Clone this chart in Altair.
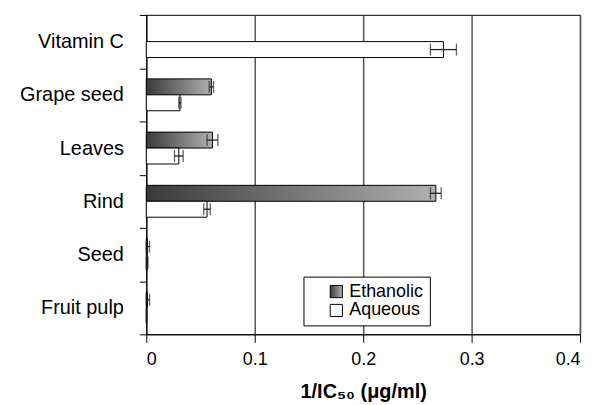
import altair as alt
import pandas as pd

categories = ["Vitamin C", "Grape seed", "Leaves", "Rind", "Seed", "Fruit pulp"]
series_names = ["Ethanolic", "Aqueous"]
ethanolic = [None, 0.060, 0.061, 0.267, 0.001, 0.001]
ethanolic_err = [None, 0.002, 0.005, 0.005, 0.002, 0.002]
aqueous = [0.274, 0.031, 0.030, 0.056, 0.0008, 0.0003]
aqueous_err = [0.012, 0.001, 0.004, 0.003, 0.0008, 0.0003]
x_ticks = [0, 0.1, 0.2, 0.3, 0.4]

rows = []
for name, vals, errs in [("Ethanolic", ethanolic, ethanolic_err), ("Aqueous", aqueous, aqueous_err)]:
    for c, v, e in zip(categories, vals, errs):
        if v is None:
            continue
        rows.append(dict(cat=c, series=name, value=v, lo=max(v - e, 0), hi=v + e))
df = pd.DataFrame(rows)

FONT = "Liberation Sans"
grad_expr = ("{gradient: 'linear', x1: 0, y1: 0, x2: 1, y2: 0, "
             "stops: [{offset: 0, color: '#3a3a3a'}, {offset: 1, color: '#b0b0b0'}]}")

y_enc = alt.Y("cat:N", sort=categories,
              scale=alt.Scale(paddingInner=0, paddingOuter=0),
              axis=alt.Axis(title=None, tickBand="extent", tickSize=7, tickColor="black",
                            domainColor="black", labelFontSize=20, labelFont=FONT,
                            labelColor="black", labelPadding=16, grid=False))
yoff_enc = alt.YOffset("series:N", sort=series_names,
                       scale=alt.Scale(domain=series_names, paddingInner=0, paddingOuter=0.67))
x_scale = alt.Scale(domain=[0, 0.4], nice=False)

base = alt.Chart(df)

bars = base.mark_bar(stroke="black", strokeWidth=1).encode(
    x=alt.X("value:Q", scale=x_scale,
            axis=alt.Axis(values=x_ticks, format=".1~f", grid=True, gridColor="#555",
                          gridWidth=1.5, tickSize=8, tickColor="black", domainColor="black",
                          labelFontSize=18, labelFont=FONT, labelColor="black", labelPadding=8,
                          title="1/IC₅₀ (μg/ml)", titleFont=FONT, titleFontSize=20,
                          titleFontWeight="bold", titleColor="black", titlePadding=13)),
    y=y_enc,
    yOffset=yoff_enc,
    color=alt.Color("series:N",
                    scale=alt.Scale(domain=series_names, range=[alt.ExprRef(grad_expr), "white"]),
                    legend=alt.Legend(orient="none", legendX=158, legendY=263, title=None,
                                      symbolType="square", symbolSize=150,
                                      symbolStrokeColor="black", symbolStrokeWidth=1,
                                      labelFontSize=18, labelFont=FONT, labelColor="black",
                                      fillColor="white", strokeColor="black", padding=6,
                                      rowPadding=1, symbolOffset=18)),
)

rules = base.mark_rule(color="#222", strokeWidth=1.3).encode(
    x=alt.X("lo:Q", scale=x_scale), x2="hi:Q", y=y_enc, yOffset=yoff_enc)
lo_ticks = base.mark_tick(color="#222", thickness=1.3, size=12, orient="vertical").encode(
    x=alt.X("lo:Q", scale=x_scale), y=y_enc, yOffset=yoff_enc)
hi_ticks = base.mark_tick(color="#222", thickness=1.3, size=12, orient="vertical").encode(
    x=alt.X("hi:Q", scale=x_scale), y=y_enc, yOffset=yoff_enc)

chart = alt.layer(bars, rules, lo_ticks, hi_ticks).properties(
    width=436, height=321,
    autosize=alt.AutoSizeParams(type="none"),
    padding={"left": 139, "top": 6, "right": 12, "bottom": 70},
).configure_view(stroke="#333", strokeWidth=1.2)

chart.save("out.html", embed_options={"renderer": "svg", "actions": False})
